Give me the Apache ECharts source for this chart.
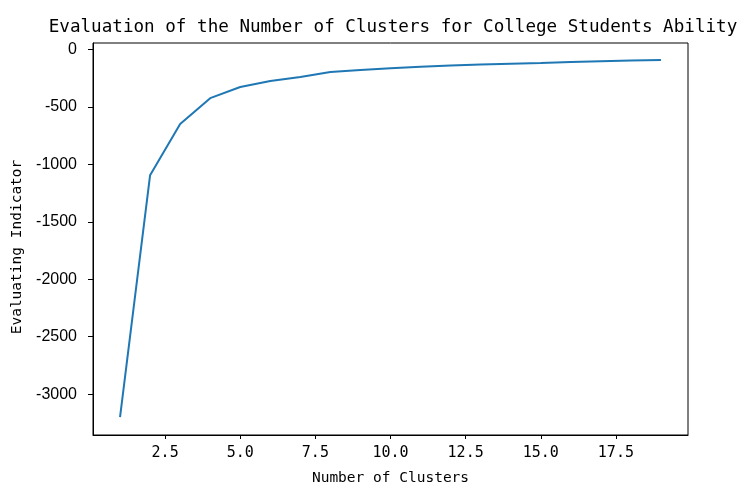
<!DOCTYPE html>
<html>
<head>
<meta charset="utf-8">
<script src="https://cdn.jsdelivr.net/npm/echarts@6/dist/echarts.min.js"></script>
<style>html,body{margin:0;padding:0;background:#fff}#c{width:737px;height:482px}</style>
</head>
<body>
<div id="c"></div>
<script>
const clusters = [1,2,3,4,5,6,7,8,9,10,11,12,13,14,15,16,17,18,19];
const indicator = [-3200,-1095,-650,-425,-328,-275,-240,-198,-180,-165,-152,-140,-132,-125,-118,-110,-104,-98,-92];
const xTicks = [2.5,5,7.5,10,12.5,15,17.5];
const yTicks = [-3000,-2500,-2000,-1500,-1000,-500,0];

const chart = echarts.init(document.getElementById('c'), null, {renderer:'canvas'});
const mono = 'DejaVu Sans Mono';
chart.setOption({
  animation:false,
  backgroundColor:'#fff',
  title:{
    text:'Evaluation of the Number of Clusters for College Students Ability',
    left:388, top:13, textAlign:'center',
    textStyle:{fontFamily:mono,fontSize:17.6,fontWeight:'normal',color:'#000'}
  },
  grid:{left:93,right:49,top:43,bottom:47,containLabel:false,outerBoundsMode:'none',show:true,borderColor:'#000',borderWidth:1,backgroundColor:'transparent'},
  xAxis:{
    type:'value', min:0.1, max:19.9,
    name:'Number of Clusters', nameLocation:'middle', nameGap:36,
    nameTextStyle:{fontFamily:mono,fontSize:14.5,color:'#000'},
    axisLine:{show:true,onZero:false,lineStyle:{color:'#000',width:1}},
    axisTick:{show:true,length:4,customValues:xTicks,lineStyle:{color:'#000'}},
    axisLabel:{customValues:xTicks,margin:11,fontFamily:mono,fontSize:15,color:'#000',formatter:v=>Number(v).toFixed(1)},
    splitLine:{show:false}
  },
  yAxis:{
    type:'value', min:-3355, max:55,
    name:'Evaluating Indicator', nameLocation:'middle', nameGap:67,
    nameTextStyle:{fontFamily:mono,fontSize:14.5,color:'#000',padding:[0,16,0,0]},
    axisLine:{show:true,onZero:false,lineStyle:{color:'#000',width:1}},
    axisTick:{show:true,length:5,customValues:yTicks,lineStyle:{color:'#000'}},
    axisLabel:{customValues:yTicks,margin:16,fontFamily:'Liberation Sans',fontSize:16,color:'#000',formatter:v=>String(v)},
    splitLine:{show:false}
  },
  series:[{
    type:'line',
    data:clusters.map((c,i)=>[c,indicator[i]]),
    showSymbol:false, symbol:'none',
    lineStyle:{color:'#1f77b4',width:2},
    clip:false
  }]
});
</script>
</body>
</html>
